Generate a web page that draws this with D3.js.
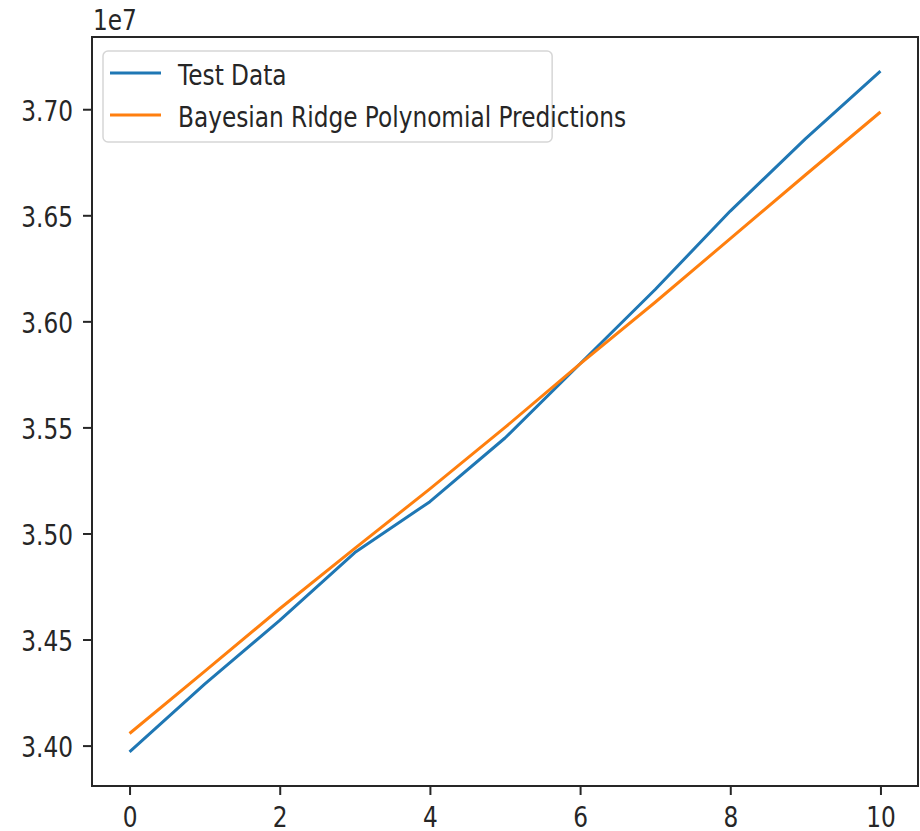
<!DOCTYPE html>
<html>
<head>
<meta charset="utf-8">
<script src="https://cdn.jsdelivr.net/npm/d3@7"></script>
<style>
  body { margin: 0; background: #fff; }
  text { font-family: "DejaVu Sans", sans-serif; fill: #262626; }
</style>
</head>
<body>
<svg id="chart" width="920" height="831"></svg>
<script>
// index of the test points
const steps = [0, 1, 2, 3, 4, 5, 6, 7, 8, 9, 10];
// actual values
const testData = [3.397e7, 3.429e7, 3.459e7, 3.491e7, 3.515e7, 3.545e7, 3.580e7, 3.615e7, 3.652e7, 3.686e7, 3.718e7];
// model output
const predictions = [3.4057e7, 3.435e7, 3.4645e7, 3.493e7, 3.521e7, 3.550e7, 3.580e7, 3.609e7, 3.639e7, 3.669e7, 3.6987e7];
const seriesNames = ["Test Data", "Bayesian Ridge Polynomial Predictions"];
const colors = ["#1f77b4", "#ff7f0e"];
const xTicks = [0, 2, 4, 6, 8, 10];
const yTicks = [3.40e7, 3.45e7, 3.50e7, 3.55e7, 3.60e7, 3.65e7, 3.70e7];

const svg = d3.select("#chart");
svg.selectAll("*").remove();

const margin = {top: 37, right: 2, bottom: 45, left: 92},
    width = 920 - margin.left - margin.right,
    height = 831 - margin.top - margin.bottom;

const fontSize = 28.5;
const squeeze = 0.815; // glyphs in the picture are narrow

// squeeze text horizontally
function narrow(sel) {
  sel.each(function() {
    const w = this.getComputedTextLength();
    d3.select(this)
      .attr("textLength", w * squeeze)
      .attr("lengthAdjust", "spacingAndGlyphs");
  });
}

const g = svg.append("g")
  .attr("transform", `translate(${margin.left},${margin.top})`);

// matplotlib-like 5% margins
const allY = testData.concat(predictions);
const [yMin, yMax] = d3.extent(allY);
const yPad = (yMax - yMin) * 0.05;
const xPad = (d3.max(steps) - d3.min(steps)) * 0.05;

const x = d3.scaleLinear()
  .domain([d3.min(steps) - xPad, d3.max(steps) + xPad])
  .range([0, width]);

const y = d3.scaleLinear()
  .domain([yMin - yPad, yMax + yPad])
  .range([height, 0]);

// X axis
const xAxis = g.append("g")
  .attr("transform", `translate(0,${height})`)
  .call(d3.axisBottom(x).tickValues(xTicks).tickSize(9).tickFormat(d3.format("d")));
xAxis.select(".domain").remove();
xAxis.selectAll(".tick line").attr("stroke", "#262626").attr("stroke-width", 2);
xAxis.selectAll(".tick text")
  .attr("y", 41)
  .attr("dy", null)
  .style("font-size", fontSize + "px")
  .call(narrow);

// Y axis
const yAxis = g.append("g")
  .call(d3.axisLeft(y).tickValues(yTicks).tickSize(9).tickPadding(10)
    .tickFormat(d => (d / 1e7).toFixed(2)));
yAxis.select(".domain").remove();
yAxis.selectAll(".tick line").attr("stroke", "#262626").attr("stroke-width", 2);
yAxis.selectAll(".tick text")
  .attr("dy", "0.4em")
  .style("font-size", fontSize + "px")
  .call(narrow);

// offset label
g.append("text")
  .attr("x", 1)
  .attr("y", -7)
  .style("font-size", fontSize + "px")
  .text("1e7")
  .call(narrow);

// Lines
const line = d3.line()
  .x((d, i) => x(steps[i]))
  .y(d => y(d));

[testData, predictions].forEach((series, i) => {
  g.append("path")
    .datum(series)
    .attr("fill", "none")
    .attr("stroke", colors[i])
    .attr("stroke-width", 3)
    .attr("stroke-linejoin", "round")
    .attr("d", line);
});

// Frame
g.append("rect")
  .attr("width", width)
  .attr("height", height)
  .attr("fill", "none")
  .attr("stroke", "#262626")
  .attr("stroke-width", 2);

// Legend
const legend = g.append("g").attr("transform", "translate(11,14)");
const legendBox = legend.append("rect")
  .attr("rx", 5)
  .attr("fill", "#fff")
  .attr("fill-opacity", 0.8)
  .attr("stroke", "#d6d6d6")
  .attr("stroke-width", 1.5);

seriesNames.forEach((name, i) => {
  const row = legend.append("g").attr("transform", `translate(0,${22 + i * 42})`);
  row.append("line")
    .attr("x1", 7).attr("x2", 58)
    .attr("stroke", colors[i])
    .attr("stroke-width", 3);
  row.append("text")
    .attr("x", 75)
    .attr("y", 12)
    .style("font-size", fontSize + "px")
    .text(name)
    .call(narrow);
});

const lw = d3.max(legend.selectAll("text").nodes(), n => n.getComputedTextLength());
legendBox
  .attr("width", 75 + lw * squeeze + 9)
  .attr("height", 91);
</script>
</body>
</html>
